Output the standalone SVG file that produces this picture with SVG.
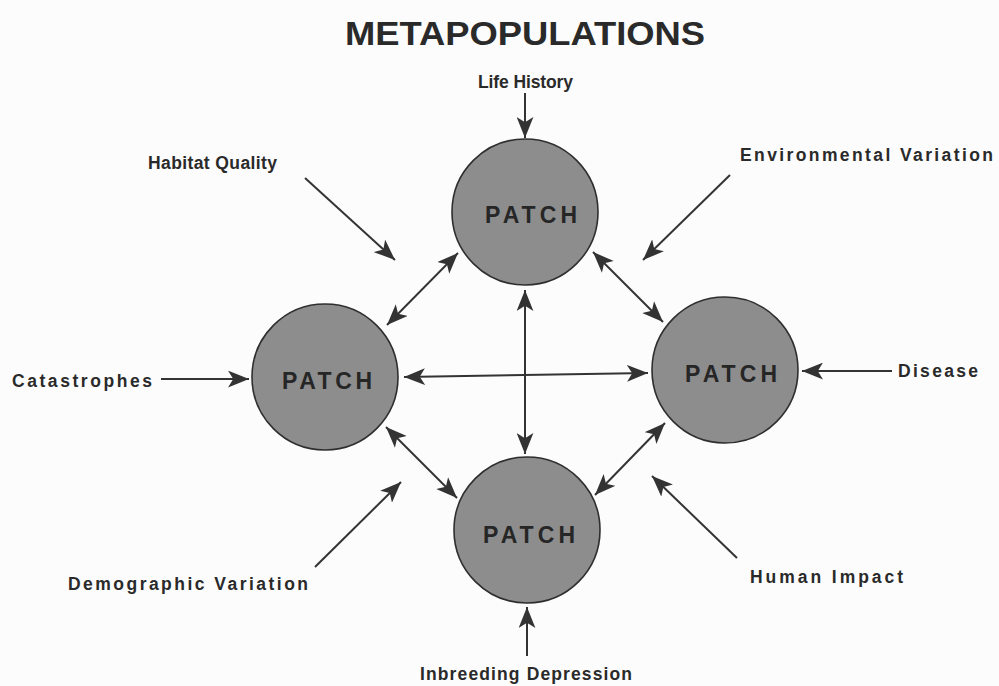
<svg xmlns="http://www.w3.org/2000/svg" width="999" height="686" viewBox="0 0 999 686">
  <style>
    .bg { fill: #fcfcfc; }
    .patch { fill: #8d8d8d; stroke: #2e2e2e; stroke-width: 1.6; }
    .ptxt { font-family: "Liberation Sans", Arial, sans-serif; font-weight: bold; font-size: 23px; fill: #262626; }
    .lbl { font-family: "Liberation Sans", Arial, sans-serif; font-weight: bold; font-size: 17.5px; fill: #2a2a2a; }
    .title { font-family: "Liberation Sans", Arial, sans-serif; font-weight: bold; font-size: 33px; fill: #2a2a2a; }
    .conn line { stroke: #333; stroke-width: 2; fill: none; }
    .one { marker-end: url(#ah); }
    .two { marker-start: url(#ah); marker-end: url(#ah); }
  </style>
  <defs>
    <marker id="ah" viewBox="0 0 20 16" refX="20" refY="8" markerWidth="21" markerHeight="17" markerUnits="userSpaceOnUse" orient="auto-start-reverse">
      <path d="M0,0 L20,8 L0,16 L5,8 z" fill="#333"/>
    </marker>
  </defs>
  <rect class="bg" x="0" y="0" width="999" height="686"/>

  <text class="title" x="345" y="45" textLength="360" lengthAdjust="spacingAndGlyphs">METAPOPULATIONS</text>

  <g id="patch-top">
    <circle class="patch" cx="525" cy="212" r="73"/>
    <text class="ptxt" x="485" y="223" textLength="92" lengthAdjust="spacing">PATCH</text>
  </g>
  <g id="patch-left">
    <circle class="patch" cx="325" cy="377" r="73"/>
    <text class="ptxt" x="282" y="389" textLength="90" lengthAdjust="spacing">PATCH</text>
  </g>
  <g id="patch-right">
    <circle class="patch" cx="725" cy="370" r="73"/>
    <text class="ptxt" x="685" y="382" textLength="92" lengthAdjust="spacing">PATCH</text>
  </g>
  <g id="patch-bottom">
    <circle class="patch" cx="527" cy="530" r="73"/>
    <text class="ptxt" x="483" y="543" textLength="92" lengthAdjust="spacing">PATCH</text>
  </g>

  <g id="label-life-history"><text class="lbl" x="478" y="88" textLength="95" lengthAdjust="spacing">Life History</text></g>
  <g id="label-habitat-quality"><text class="lbl" x="148" y="169" textLength="129" lengthAdjust="spacing">Habitat Quality</text></g>
  <g id="label-environmental-variation"><text class="lbl" x="740" y="161" textLength="253" lengthAdjust="spacing">Environmental Variation</text></g>
  <g id="label-catastrophes"><text class="lbl" x="12" y="387" textLength="140" lengthAdjust="spacing">Catastrophes</text></g>
  <g id="label-disease"><text class="lbl" x="898" y="377" textLength="80" lengthAdjust="spacing">Disease</text></g>
  <g id="label-demographic-variation"><text class="lbl" x="68" y="590" textLength="240" lengthAdjust="spacing">Demographic Variation</text></g>
  <g id="label-human-impact"><text class="lbl" x="750" y="583" textLength="153" lengthAdjust="spacing">Human Impact</text></g>
  <g id="label-inbreeding-depression"><text class="lbl" x="420" y="680" textLength="212" lengthAdjust="spacing">Inbreeding Depression</text></g>

  <g id="connectors" class="conn">
    <line class="one" x1="525" y1="93" x2="525" y2="138"/>
    <line class="one" x1="305" y1="178" x2="395" y2="260"/>
    <line class="one" x1="730" y1="175" x2="643" y2="260"/>
    <line class="one" x1="161" y1="379" x2="249" y2="379"/>
    <line class="one" x1="892" y1="371" x2="802" y2="371"/>
    <line class="one" x1="315" y1="567" x2="401" y2="482"/>
    <line class="one" x1="737" y1="558" x2="652" y2="476"/>
    <line class="one" x1="527" y1="656" x2="527" y2="607"/>

    <line class="two" x1="458" y1="253" x2="387" y2="325"/>
    <line class="two" x1="593" y1="252" x2="663" y2="322"/>
    <line class="two" x1="386" y1="427" x2="457" y2="498"/>
    <line class="two" x1="665" y1="423" x2="595" y2="495"/>
    <line class="two" x1="525" y1="290" x2="525" y2="454"/>
    <line class="two" x1="404" y1="377" x2="648" y2="373"/>
  </g>
</svg>
